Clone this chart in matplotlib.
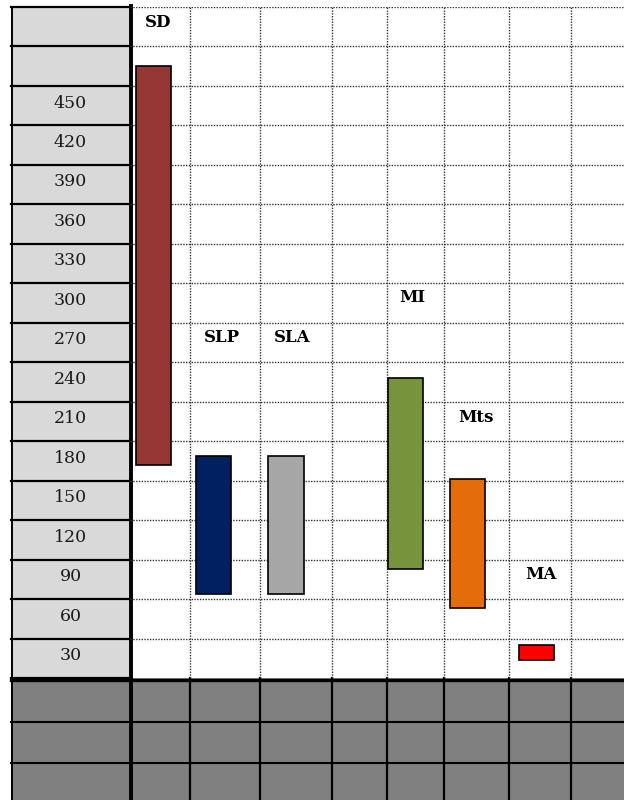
import numpy as np
import matplotlib
matplotlib.use("Agg")
import matplotlib.pyplot as plt
from matplotlib.patches import Rectangle
from matplotlib.transforms import blended_transform_factory

# data: floating bars (low/high) per category
categories = ["SD", "SLP", "SLA", "MI", "Mts", "MA"]
low = [177, 79, 79, 98, 68, 29]
high = [480, 184, 184, 243, 166, 40]
row_labels = [450, 420, 390, 360, 330, 300, 270, 240, 210, 180, 150, 120, 90, 60, 30]

# layout / style
bar_colors = ["#953735", "#002060", "#A6A6A6", "#77933C", "#E46C0A", "#FF0000"]
bar_x = [153.5, 213.5, 286, 405.7, 467.3, 536.3]      # pixel x of bar centres
label_x = [158, 221.5, 292.5, 412, 475.7, 541]
label_y = [513, 274, 274, 304, 213, 94]                # in value units
col_edges = [190, 260, 332, 387, 444, 509, 571]        # table column borders (px)
row_step = 30
y_lo, y_hi = 15, 525

W, H = 624, 800
fig = plt.figure(figsize=(W / 100, H / 100), dpi=100)

# background axes in pixel coordinates for the table frame
bg = fig.add_axes([0, 0, 1, 1])
bg.set_xlim(0, W)
bg.set_ylim(H, 0)
bg.axis("off")

# chart axes over the white area
top_px, bot_px, left_px = 7, 678, 130
ax = fig.add_axes([left_px / W, (H - bot_px) / H, (W - left_px) / W, (bot_px - top_px) / H])
ax.set_xlim(left_px, W)
ax.set_ylim(y_lo, y_hi)
ax.patch.set_alpha(0)
for s in ax.spines.values():
    s.set_visible(False)
ax.set_xticks([])
ax.set_yticks([])

dot = dict(color="#333333", linestyle=(0, (1, 1)), linewidth=1.0, zorder=1)
edges = np.arange(y_lo, y_hi + 1, row_step)
for e in edges[1:]:
    ax.axhline(e, **dot)
for cx in col_edges:
    ax.axvline(cx, **dot)

# left label column
mix = blended_transform_factory(bg.transData, ax.transData)
bg.add_patch(Rectangle((11, y_lo), 119, y_hi - y_lo, transform=mix,
                       facecolor="#D9D9D9", edgecolor="none", zorder=0))
for e in edges:
    bg.plot([11, 130], [e, e], transform=mix, color="black", lw=1.6, zorder=2)
bg.plot([11.5, 11.5], [y_lo, y_hi], transform=mix, color="black", lw=1.4, zorder=2)
for i, v in enumerate(row_labels):
    bg.text(70.5, v + 2, str(v), transform=mix, ha="center", va="center",
            fontsize=12.5, family="DejaVu Serif", color="#1a1a1a", zorder=3)

# bottom grey rows
bg.add_patch(Rectangle((11, bot_px), W - 11, H - bot_px, facecolor="#808080",
                       edgecolor="none", zorder=0))
bg.plot([11, W], [679.5, 679.5], color="black", lw=2.4, zorder=2)
for yy in [722, 763]:
    bg.plot([11, W], [yy, yy], color="black", lw=1.5, zorder=2)
for cx in col_edges:
    bg.plot([cx, cx], [bot_px, H], color="black", lw=1.6, zorder=2)
bg.plot([11.5, 11.5], [bot_px, H], color="black", lw=1.4, zorder=2)
bg.plot([131, 131], [6, H], color="black", lw=2.8, zorder=4)

# floating bars
heights = [h - l for l, h in zip(low, high)]
ax.bar(bar_x, heights, bottom=low, width=35.5, color=bar_colors,
       edgecolor="black", linewidth=1.2, zorder=3)
for name, lx, ly in zip(categories, label_x, label_y):
    ax.text(lx, ly, name, ha="center", va="center", fontsize=12,
            fontweight="bold", family="DejaVu Serif", zorder=4)

fig.savefig("out.png", dpi=100)
